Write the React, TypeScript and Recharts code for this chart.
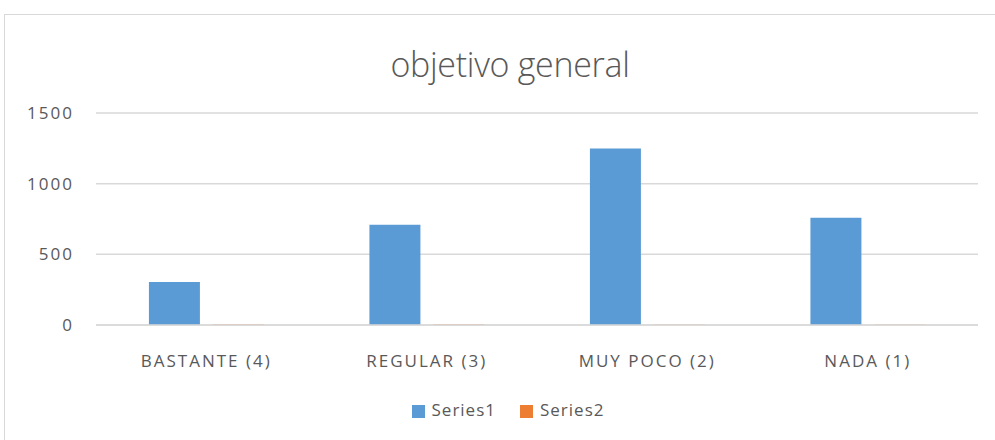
import { BarChart, Bar, XAxis, YAxis, CartesianGrid, Legend } from 'recharts'

const categories = ['BASTANTE (4)', 'REGULAR (3)', 'MUY POCO (2)', 'NADA (1)']
const series1 = [305, 709, 1248, 759]
const series2 = [4, 3, 2, 1]
const yTicks = [0, 500, 1000, 1500]

const FONT = '"Open Sans", "Noto Sans", sans-serif'
const TEXT = '#595959'

const chartData = categories.map((name, i) => ({
  name,
  Series1: series1[i],
  Series2: series2[i],
}))

export default function App() {
  return (
    <div style={{ position: 'absolute', left: 0, top: 0, width: 995, height: 440, background: '#fff', overflow: 'hidden' }}>
      <div
        style={{
          position: 'absolute',
          left: 4,
          top: 14,
          width: 1000,
          height: 440,
          border: '1px solid #d9d9d9',
          boxSizing: 'border-box',
        }}
      />
      <div
        style={{
          position: 'absolute',
          left: 0,
          width: 1020,
          top: 41,
          textAlign: 'center',
          fontFamily: FONT,
          fontSize: 34,
          fontWeight: 300,
          color: TEXT,
          letterSpacing: -0.3,
        }}
      >
        objetivo general
      </div>
      <div style={{ position: 'absolute', left: 0, top: 0 }}>
        <BarChart
          width={995}
          height={440}
          data={chartData}
          margin={{ top: 113, right: 17, left: 0, bottom: 32 }}
          barCategoryGap="24%"
          barGap={13}
        >
          <CartesianGrid vertical={false} stroke="#d9d9d9" strokeWidth={1.5} />
          <XAxis
            dataKey="name"
            tickLine={false}
            axisLine={{ stroke: '#d9d9d9', strokeWidth: 1.5 }}
            tick={{ fontSize: 17, fill: TEXT, fontFamily: FONT, letterSpacing: 2 }}
            tickMargin={24}
            height={60}
          />
          <YAxis
            ticks={yTicks}
            domain={[0, 1500]}
            tickLine={false}
            axisLine={false}
            tickSize={0}
            tickMargin={22}
            width={96}
            tick={{ fontSize: 17, fill: TEXT, fontFamily: FONT, letterSpacing: 2 }}
          />
          <Legend
            verticalAlign="bottom"
            iconType="square"
            iconSize={13}
            wrapperStyle={{ top: 398, left: 10, width: 1020, fontFamily: FONT, fontSize: 17, letterSpacing: 1 }}
            formatter={(v) => (
              <span style={{ color: TEXT, marginLeft: 3, marginRight: 14 }}>{v}</span>
            )}
          />
          <Bar dataKey="Series1" fill="#5b9bd5" isAnimationActive={false} />
          <Bar dataKey="Series2" fill="#ed7d31" isAnimationActive={false} />
        </BarChart>
      </div>
    </div>
  )
}
